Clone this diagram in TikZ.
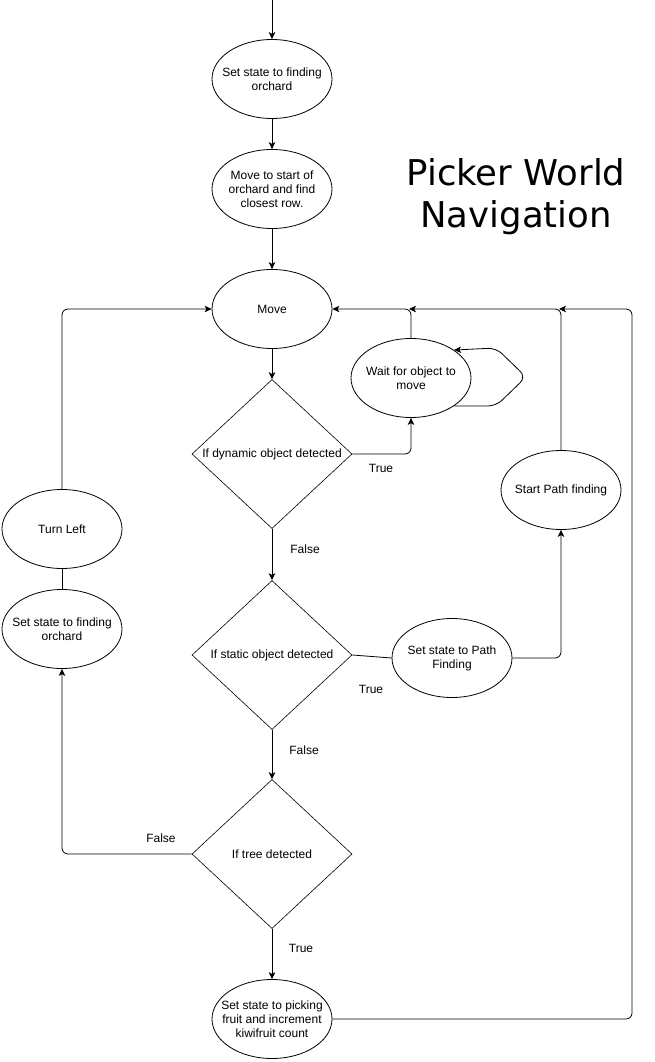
\documentclass[tikz,border=0pt]{standalone}
\usepackage{fontspec}
\setmainfont{Liberation Sans}
\newfontfamily\titlefont{DejaVu Sans}
\usetikzlibrary{shapes.geometric,arrows.meta}
\begin{document}
\begin{tikzpicture}[x=1pt,y=-1pt,
  every node/.style={font=\fontsize{12}{14}\selectfont},
  ell/.style={draw,ellipse,inner sep=0pt,minimum width=120pt,minimum height=79pt,line width=0.8pt},
  dia/.style={draw,diamond,inner sep=0pt,minimum width=160pt,minimum height=149pt,line width=0.6pt},
  txt/.style={align=center,inner sep=0pt},
  arr/.style={-{Stealth[length=7pt,width=6.5pt,inset=1.8pt]},line width=0.8pt},
  ln/.style={line width=0.8pt},
  lbl/.style={inner sep=0pt},
  ttl/.style={font=\titlefont\fontsize{35.5}{42}\selectfont,align=center}]
\useasboundingbox (0,0) rectangle (654,1062);
\coordinate (start) at (272,0);
\node[ell,label={[txt]center:Set state to finding\\orchard}] (e1) at (272,79) {};
\node[ell,label={[txt]center:Move to start of\\orchard and find\\closest row.}] (e2) at (272,189) {};
\node[ell,label={[txt]center:Move}] (move) at (272,309) {};
\node[dia,label={[txt]center:If dynamic object detected}] (d1) at (272,454) {};
\node[dia,label={[txt]center:If static object detected}] (d2) at (272,655) {};
\node[dia,label={[txt]center:If tree detected}] (d3) at (272,854) {};
\node[ell,label={[txt]center:Set state to picking\\fruit and increment\\kiwifruit count}] (pick) at (272,1019) {};
\node[ell,label={[txt]center:Wait for object to\\move}] (wait) at (411,378) {};
\node[ell,label={[txt]center:Start Path finding}] (spf) at (561,490) {};
\node[ell,label={[txt]center:Set state to Path\\Finding}] (setpf) at (452,658) {};
\node[ell,label={[txt]center:Turn Left}] (turn) at (62,529) {};
\node[ell,label={[txt]center:Set state to finding\\orchard}] (setl) at (62,629) {};
\node[ttl] (title) at (516,197) {Picker World\\Navigation};
% connectors
\draw[arr] (start) -- (e1.north);
\draw[arr] (e1) -- (e2);
\draw[arr] (e2) -- (move);
\draw[arr] (move) -- (d1);
\draw[arr,rounded corners=6pt] (d1.east) -| (wait.south);
\draw[arr,rounded corners=6pt] (wait.north) |- (move.east);
\draw[arr,rounded corners=8pt] (wait.-33) -- ++(42,0) -- ++(30,-29) -- ++(-30,-29) -- (wait.33);
\coordinate (j1) at (409,309);
\coordinate (j2) at (559,309);
\coordinate (rc) at (632,309);
\draw[arr,rounded corners=6pt] (spf.north) |- (j1);
\draw[arr,rounded corners=6pt] (pick.east) -| (rc) -- (j2);
\draw[arr] (d1) -- (d2);
\draw[ln] (d2.east) -- (setpf.west);
\draw[arr,rounded corners=6pt] (setpf.east) -| (spf.south);
\draw[arr] (d2) -- (d3);
\draw[arr,rounded corners=6pt] (d3.west) -| (setl.south);
\draw[ln] (setl.north) -- (turn.south);
\draw[arr,rounded corners=6pt] (turn.north) |- (move.west);
\draw[arr] (d3) -- (pick);
% labels
\node[lbl] (t1) at (381,468) {True};
\node[lbl] (f1) at (305,549) {False};
\node[lbl] (t2) at (371,689) {True};
\node[lbl] (f2) at (304,750) {False};
\node[lbl] (f3) at (161,838) {False};
\node[lbl] (t3) at (301,948) {True};
\end{tikzpicture}
\end{document}
